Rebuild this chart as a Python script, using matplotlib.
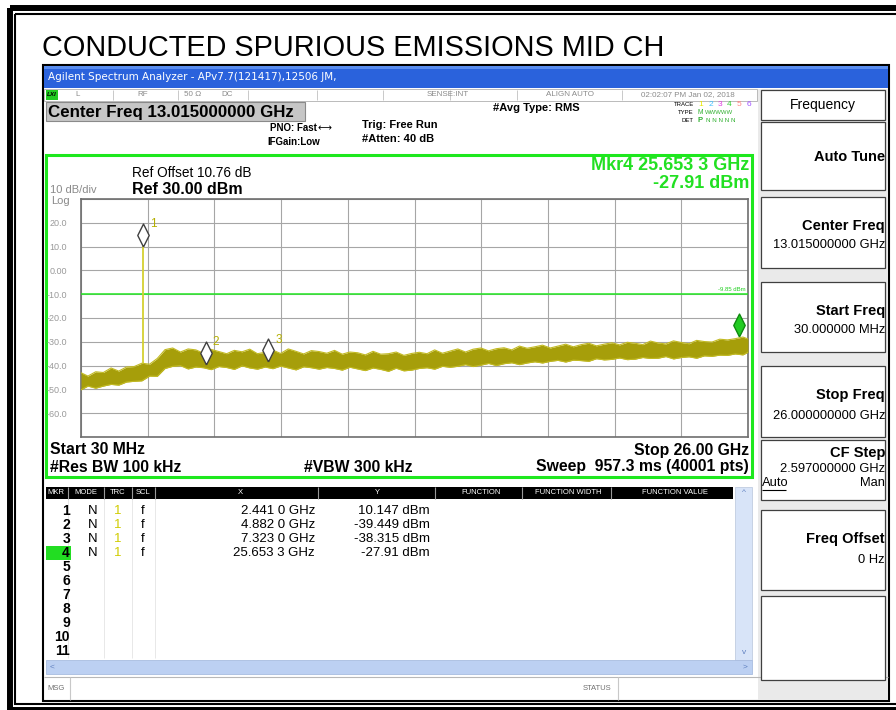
import matplotlib
matplotlib.use('Agg')
import matplotlib.pyplot as plt
from matplotlib.patches import Rectangle
from matplotlib.transforms import offset_copy

# ---------------- data ----------------
freq_ghz = [0.03, 0.3, 0.6, 0.9, 1.2, 1.5, 1.8, 2.1, 2.4, 2.7, 3.0, 3.3, 3.6, 3.9, 4.2, 4.5,
            4.8, 5.1, 5.4, 5.7, 6.0, 6.3, 6.6, 6.9, 7.2, 7.5, 7.8, 8.1, 8.4, 8.7, 9.0, 9.3,
            9.6, 9.9, 10.2, 10.5, 10.8, 11.1, 11.4, 11.7, 12.0, 12.3, 12.6, 12.9, 13.2, 13.5,
            13.8, 14.1, 14.4, 14.7, 15.0, 15.3, 15.6, 15.9, 16.2, 16.5, 16.8, 17.1, 17.4, 17.7,
            18.0, 18.3, 18.6, 18.9, 19.2, 19.5, 19.8, 20.1, 20.4, 20.7, 21.0, 21.3, 21.6, 21.9,
            22.2, 22.5, 22.8, 23.1, 23.4, 23.7, 24.0, 24.3, 24.6, 24.9, 25.2, 25.5, 25.8, 26.0]
trace_upper = [-43.0, -44.4, -42.6, -42.9, -41.0, -42.3, -40.6, -40.4, -39.0, -39.4, -37.0, -33.3,
               -32.6, -34.3, -33.0, -33.4, -34.8, -33.2, -34.1, -35.0, -33.6, -34.2, -33.1, -35.0,
               -34.4, -33.5, -34.9, -33.0, -34.0, -35.1, -33.7, -34.1, -34.8, -33.6, -35.2, -34.3,
               -34.6, -35.5, -34.0, -35.2, -35.0, -34.3, -35.7, -34.9, -34.4, -35.0, -33.4, -34.8,
               -33.9, -33.0, -34.3, -33.1, -32.6, -33.8, -32.9, -32.5, -33.4, -31.8, -32.7, -32.1,
               -31.4, -32.6, -31.8, -31.0, -32.1, -31.2, -30.6, -31.7, -31.0, -30.4, -31.3, -30.2,
               -30.6, -31.2, -29.7, -30.5, -30.9, -29.6, -30.3, -30.8, -29.4, -29.9, -30.1, -28.9,
               -29.2, -28.7, -28.0, -28.8]
trace_lower = [-50.2, -48.6, -49.5, -48.6, -47.9, -48.2, -46.9, -46.6, -46.4, -44.4, -44.5, -41.2,
               -40.3, -40.0, -41.4, -40.6, -40.9, -41.7, -40.4, -40.8, -41.6, -40.1, -41.0, -41.5,
               -40.6, -41.3, -40.2, -41.0, -41.8, -40.5, -40.9, -41.5, -40.8, -41.2, -41.9, -40.7,
               -41.4, -42.1, -41.0, -41.6, -42.4, -41.1, -42.2, -41.9, -41.2, -40.9, -41.5, -40.3,
               -40.7, -40.3, -39.6, -40.4, -39.8, -39.1, -40.0, -39.2, -38.8, -39.6, -38.9, -38.4,
               -38.9, -38.2, -37.8, -38.5, -37.7, -37.9, -38.2, -37.1, -37.6, -37.4, -36.8, -37.5,
               -37.3, -36.6, -37.0, -36.9, -36.2, -37.2, -36.6, -36.3, -36.9, -35.9, -36.1, -35.6,
               -35.7, -35.1, -35.5, -34.4]

marker_freq = [2.441, 4.882, 7.323, 25.6533]
marker_dbm = [10.147, -39.449, -38.315, -27.91]
marker_x_text = ['2.441 0 GHz', '4.882 0 GHz', '7.323 0 GHz', '25.653 3 GHz']
marker_y_text = ['10.147 dBm', '-39.449 dBm', '-38.315 dBm', '-27.91 dBm']
display_line_dbm = -9.853
start_ghz, stop_ghz = 0.03, 26.0
ref_dbm, db_per_div, n_div = 30.0, 10.0, 10
y_tick_labels = ['', '-60.0', '-50.0', '-40.0', '-30.0', '-20.0', '-10.0', '0.00', '10.0', '20.0', '']

softkeys = [('Auto Tune', None), ('Center Freq', '13.015000000 GHz'), ('Start Freq', '30.000000 MHz'),
            ('Stop Freq', '26.000000000 GHz'), ('CF Step', '2.597000000 GHz'), ('Freq Offset', '0 Hz')]

# ---------------- figure ----------------
W, H = 896, 710
fig = plt.figure(figsize=(W / 100, H / 100), dpi=100)
fig.patch.set_facecolor('white')
bg = fig.add_axes([0, 0, 1, 1])
bg.set_xlim(0, W)
bg.set_ylim(H, 0)
bg.axis('off')

FONT = 'Liberation Sans'
GRAY_T = '#8a8a8a'


def T(x, y, s, size=9.0, color='black', weight='normal', ha='left', va='center', family=FONT, **kw):
    bg.text(x, y, s, fontsize=size, color=color, fontweight=weight, ha=ha, va=va,
            family=family, zorder=5, **kw)


def R(x0, y0, x1, y1, fc='none', ec='none', lw=1.0, z=1):
    bg.add_patch(Rectangle((x0, y0), x1 - x0, y1 - y0, facecolor=fc, edgecolor=ec,
                           linewidth=lw, zorder=z))


def L(xs, ys, color='black', lw=1.0, z=2):
    bg.plot(xs, ys, color=color, lw=lw, zorder=z, solid_capstyle='butt')


# outer document frame (double line)
R(10, 8, 900, 710, ec='black', lw=4.3, z=1)
R(15, 14, 898, 704, ec='black', lw=1.5, z=1)

# title
T(42, 48, 'CONDUCTED SPURIOUS EMISSIONS MID CH', size=20.8)

# screenshot window
R(43, 65, 889, 701, fc='white', ec='black', lw=1.5, z=1)
R(44, 66, 888, 88, fc='#2a62dc', z=2)
R(44, 66, 888, 69, fc='#5a8ef0', z=2)
T(48, 77, 'Agilent Spectrum Analyzer - APv7.7(121417),12506 JM,', size=7.5, color='white',
  family='DejaVu Sans')

# status row
R(44, 89, 757, 101, fc='white', ec='#b0b0b0', lw=0.6, z=2)
R(46, 90, 58, 100, fc='#22cc22', z=3)
T(52, 95, 'LXI', size=4.5, weight='bold', ha='center', style='italic')
for xs in [113, 178, 248, 317, 383, 450, 517, 622]:
    L([xs, xs], [90, 100], color='#c0c0c0', lw=0.6)
for xx, s in [(78, 'L'), (143, 'RF'), (193, '50 Ω'), (227, 'DC'), (448, 'SENSE:INT'),
              (570, 'ALIGN AUTO'), (688, '02:02:07 PM Jan 02, 2018')]:
    T(xx, 95, s, size=5.8, color=GRAY_T, ha='center')

# centre freq row
R(46, 102, 305, 121, fc='#c6c6c6', ec='#8a8a8a', lw=0.8, z=2)
T(48, 112, 'Center Freq 13.015000000 GHz', size=12.2, weight='bold')
T(493, 108, '#Avg Type: RMS', size=8, weight='bold')
T(362, 125, 'Trig: Free Run', size=8, weight='bold')
T(362, 139, '#Atten: 40 dB', size=8, weight='bold')
T(270, 128, 'PNO: Fast', size=7, weight='bold')
T(318, 128, '⟷', size=7, family='DejaVu Sans')
T(267, 142, 'IFGain:Low', size=7, weight='bold')
# trace legend
T(694, 105, 'TRACE', size=4.3, ha='right')
T(694, 113, 'TYPE', size=4.3, ha='right')
T(694, 121, 'DET', size=4.3, ha='right')
for i, (c, s) in enumerate(zip(['#e8e800', '#40c0ff', '#e040e0', '#30d030', '#ff8080', '#a050ff'],
                               ['1', '2', '3', '4', '5', '6'])):
    T(701 + i * 9.5, 105, s, size=6, color=c, ha='center')
T(697, 113, 'M', size=4.8, color='#30b030')
T(705, 113, 'WWWWW', size=4.3, color='#30b030')
T(697, 121, 'P', size=5.5, color='#30b030', weight='bold')
T(706, 121, 'N N N N N', size=4.5, color='#30b030')

# right soft-key panel
R(758, 89, 888, 700, fc='#eaeaea', z=2)
R(761, 90, 885, 120, fc='white', ec='#404040', lw=0.9, z=3)
T(823, 105, 'Frequency', size=10, ha='center')
box_tops = [122, 197, 282, 366, 440, 510]
box_bots = [190, 268, 352, 437, 500, 590]
name_y = [157, 226, 311, 395, 453, 539]
val_y = [None, 245, 330, 416, 469, 560]
for (name, val), t, b, ny, vy in zip(softkeys, box_tops, box_bots, name_y, val_y):
    R(761, t, 885, b, fc='white', ec='#404040', lw=0.9, z=3)
    T(885, ny, name, size=10.5, weight='bold', ha='right')
    if val is not None:
        T(885, vy, val, size=9.3, ha='right')
T(762, 483, 'Auto', size=9.3, ha='left')
L([762, 786], [490, 490], lw=0.8, z=5)
T(885, 483, 'Man', size=9.3, ha='right')
R(761, 596, 885, 680, fc='white', ec='#404040', lw=0.9, z=3)

# green plot frame and annotations
R(46, 155, 752, 477, fc='white', ec='#1ee81e', lw=2.2, z=2)
T(749, 165, 'Mkr4 25.653 3 GHz', size=13, color='#22e022', ha='right', weight='bold')
T(749, 184, '-27.91 dBm', size=13, color='#22e022', ha='right', weight='bold')
T(132, 173, 'Ref Offset 10.76 dB', size=9.8)
T(132, 189, 'Ref 30.00 dBm', size=11.5, weight='bold')
T(50, 190, '10 dB/div', size=8, color=GRAY_T)
T(51, 201, 'Log', size=8, color=GRAY_T)
T(50, 450, 'Start 30 MHz', size=11.3, weight='bold')
T(749, 450, 'Stop 26.00 GHz', size=11.3, weight='bold', ha='right')
T(50, 467, '#Res BW 100 kHz', size=11.3, weight='bold')
T(304, 467, '#VBW 300 kHz', size=11.3, weight='bold')
T(749, 467, 'Sweep  957.3 ms (40001 pts)', size=11.3, weight='bold', ha='right')

# ---------------- spectrum axes ----------------
gx0, gx1, gy0, gy1 = 81, 748, 199, 437
ax = fig.add_axes([gx0 / W, 1 - gy1 / H, (gx1 - gx0) / W, (gy1 - gy0) / H])
ax.set_facecolor('white')
ax.set_zorder(3)
ax.set_xlim(start_ghz, stop_ghz)
ax.set_ylim(ref_dbm - n_div * db_per_div, ref_dbm)
ax.set_xticks([start_ghz + i * (stop_ghz - start_ghz) / n_div for i in range(n_div + 1)])
ax.set_xticklabels([])
ax.set_yticks([ref_dbm - (n_div - i) * db_per_div for i in range(n_div + 1)])
ax.set_yticklabels(y_tick_labels, family=FONT)
ax.tick_params(length=0, labelsize=6.5, labelcolor='#9a9a9a', pad=10)
ax.grid(True, color='#a6a6a6', lw=0.8)
for sp in ax.spines.values():
    sp.set_color('#6e6e6e')
    sp.set_linewidth(1.2)

ax.axhline(display_line_dbm, color='#22e622', lw=1.1, zorder=3)
ax.text(stop_ghz - 0.1, display_line_dbm + 2.0, '-9.85 dBm', fontsize=4.3, color='#22d022',
        ha='right', va='center', family=FONT)

ax.fill_between(freq_ghz, trace_lower, trace_upper, color='#a69e0a', lw=0, zorder=4)
ax.plot(freq_ghz, trace_upper, color='#c2ba22', lw=0.8, zorder=4)
ax.plot(freq_ghz, trace_lower, color='#c2ba22', lw=0.8, zorder=4)
ax.vlines(marker_freq[0], trace_upper[8], marker_dbm[0], color='#d4d030', lw=1.3, zorder=4)

diamond = [(0, -1), (0.5, 0), (0, 1), (-0.5, 0), (0, -1)]
tr = offset_copy(ax.transData, fig=fig, x=0, y=11.5, units='dots')
for i, (f, v) in enumerate(zip(marker_freq, marker_dbm)):
    last = i == len(marker_freq) - 1
    ax.plot([f], [v], marker=diamond, markersize=16.5, transform=tr, clip_on=False,
            mfc='#22cc22' if last else 'white', mec='#108a10' if last else '#404040',
            mew=1.0, zorder=6, linestyle='none')
    if not last:
        ax.annotate(str(i + 1), (f, v), xytext=(10, 22), textcoords='offset pixels',
                    fontsize=8.5, color='#b4ae00', ha='center', va='center', family=FONT, zorder=6)

# ---------------- marker table ----------------
R(46, 487, 733, 499, fc='black', z=3)
for xx, s in [(56, 'MKR'), (86, 'MODE'), (118, 'TRC'), (143, 'SCL'), (240, 'X'), (377, 'Y'),
              (481, 'FUNCTION'), (568, 'FUNCTION WIDTH'), (675, 'FUNCTION VALUE')]:
    T(xx, 493, s, size=5.5, color='white', ha='center')
for xs in [68, 104, 132, 155, 318, 435, 522, 611]:
    L([xs, xs], [487, 499], color='#9a9a9a', lw=0.8, z=4)
for xs in [68, 104, 132, 155]:
    L([xs, xs], [499, 658], color='#e4e4e4', lw=0.6, z=2)
row_y = [511 + 14 * k for k in range(11)]
R(46, row_y[3] - 7, 71, row_y[3] + 7, fc='#22dd22', z=3)
for k, y in enumerate(row_y):
    T(70, y, str(k + 1), size=10, weight='bold', ha='right')
for k in range(len(marker_freq)):
    y = row_y[k]
    T(93, y, 'N', size=9.5, ha='center')
    T(118, y, '1', size=9.5, color='#d0cc00', ha='center')
    T(143, y, 'f', size=9.5, ha='center')
    T(315, y, marker_x_text[k], size=9.5, ha='right')
    T(430, y, marker_y_text[k], size=9.5, ha='right')
# scroll bars
R(735, 487, 752, 660, fc='#d8e4f8', ec='#c0cce0', lw=0.6, z=3)
T(744, 493, '^', size=6, color='#6080c0', ha='center')
T(744, 652, 'v', size=6, color='#6080c0', ha='center')
R(46, 660, 752, 674, fc='#bcd0f2', ec='#a8bce0', lw=0.6, z=3)
T(52, 667, '<', size=6, color='#6080c0', ha='center')
T(745, 667, '>', size=6, color='#6080c0', ha='center')

# message row
L([44, 888], [677, 677], color='#b8b8b8', lw=0.8)
L([70, 70], [677, 700], color='#c8c8c8', lw=0.8)
L([618, 618], [677, 700], color='#c8c8c8', lw=0.8)
T(56, 688, 'MSG', size=5.5, color='#707070', ha='center')
T(597, 688, 'STATUS', size=5.5, color='#707070', ha='center')

fig.savefig('out.png', dpi=100, facecolor='white')
